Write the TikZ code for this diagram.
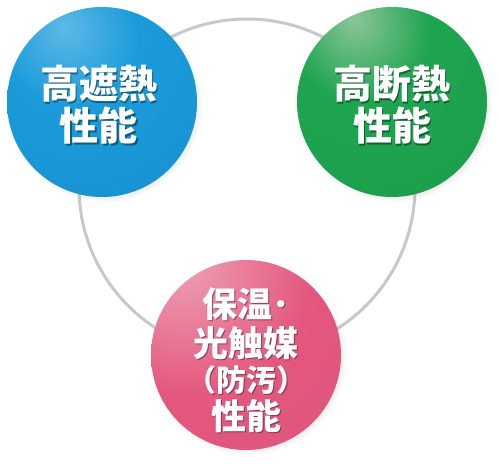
\documentclass[tikz,border=0pt]{standalone}
\usepackage{fontspec}
\newfontfamily\jpfont{Noto Sans CJK JP}
\usepackage{xcolor}
\usepackage{tikz}
\usetikzlibrary{positioning, shadows, fadings}
\definecolor{bluehi}{HTML}{5DB9E6}
\definecolor{bluemid}{HTML}{1B9BDA}
\definecolor{bluelo}{HTML}{0B72B2}
\definecolor{greenhi}{HTML}{8CC59A}
\definecolor{greenmid}{HTML}{1FA550}
\definecolor{greenlo}{HTML}{0B8739}
\definecolor{pinkhi}{HTML}{F0A9BA}
\definecolor{pinkmid}{HTML}{E4587F}
\definecolor{pinklo}{HTML}{BE3E65}
\definecolor{ringgray}{HTML}{C8C8C8}

\pgfdeclareradialshading{blueball}{\pgfpoint{-10bp}{20bp}}{color(0bp)=(bluehi); color(18bp)=(bluemid); color(48bp)=(bluemid!75!bluelo); color(70bp)=(bluelo); color(100bp)=(bluelo)}
\pgfdeclareradialshading{greenball}{\pgfpoint{-10bp}{22bp}}{color(0bp)=(greenhi); color(18bp)=(greenmid); color(48bp)=(greenmid!75!greenlo); color(70bp)=(greenlo); color(100bp)=(greenlo)}
\pgfdeclareradialshading{pinkball}{\pgfpoint{-20bp}{28bp}}{color(0bp)=(pinkhi); color(30bp)=(pinkmid); color(58bp)=(pinkmid!80!pinklo); color(80bp)=(pinklo); color(100bp)=(pinklo)}

% white caption with a soft dark copy behind it
% #1 name, #2 style, #3 ball, #4 x offset, #5 y offset, #6 text
\newcommand{\balltext}[6]{%
  \node[#2, text=black, opacity=.4] at ([xshift=#4+1.3pt, yshift=#5-1.3pt]#3) {#6};
  \node[#2] (#1) at ([xshift=#4, yshift=#5]#3) {#6};}

\begin{document}
\begin{tikzpicture}[x=1pt, y=-1pt,
    ball/.style={circle, minimum size=190pt, inner sep=0pt,
      circular drop shadow={shadow xshift=2.5pt, shadow yshift=-2.5pt, opacity=.3, shadow scale=1.03}},
    ring/.style={draw=ringgray, line width=3pt},
    caption/.style={text=white, align=center, inner sep=0pt,
      font=\jpfont\bfseries\fontsize{39pt}{42pt}\selectfont},
    pinkcaption/.style={caption, font=\jpfont\bfseries\fontsize{35pt}{38pt}\selectfont}]
  \useasboundingbox (0,0) rectangle (499,464);

  \coordinate (hub) at (247,187);
  \draw[ring] (hub) circle[radius=168pt];

  \node[ball, shading=blueball] (blue) at (102,102) {};
  \node[ball, shading=greenball] (green) at (392,102) {};
  \node[ball, shading=pinkball] (pink) at (246,355) {};

  \balltext{bluetext}{caption}{blue.center}{-3pt}{-3pt}{高遮熱\\性能}
  \balltext{greentext}{caption}{green.center}{0pt}{-3pt}{高断熱\\性能}
  \balltext{pinktext}{pinkcaption}{pink.center}{0pt}{-5pt}{保温･\\[1pt]光触媒\\[-3pt]{\fontsize{30pt}{33pt}\selectfont （防汚）}\\性能}
\end{tikzpicture}
\end{document}
